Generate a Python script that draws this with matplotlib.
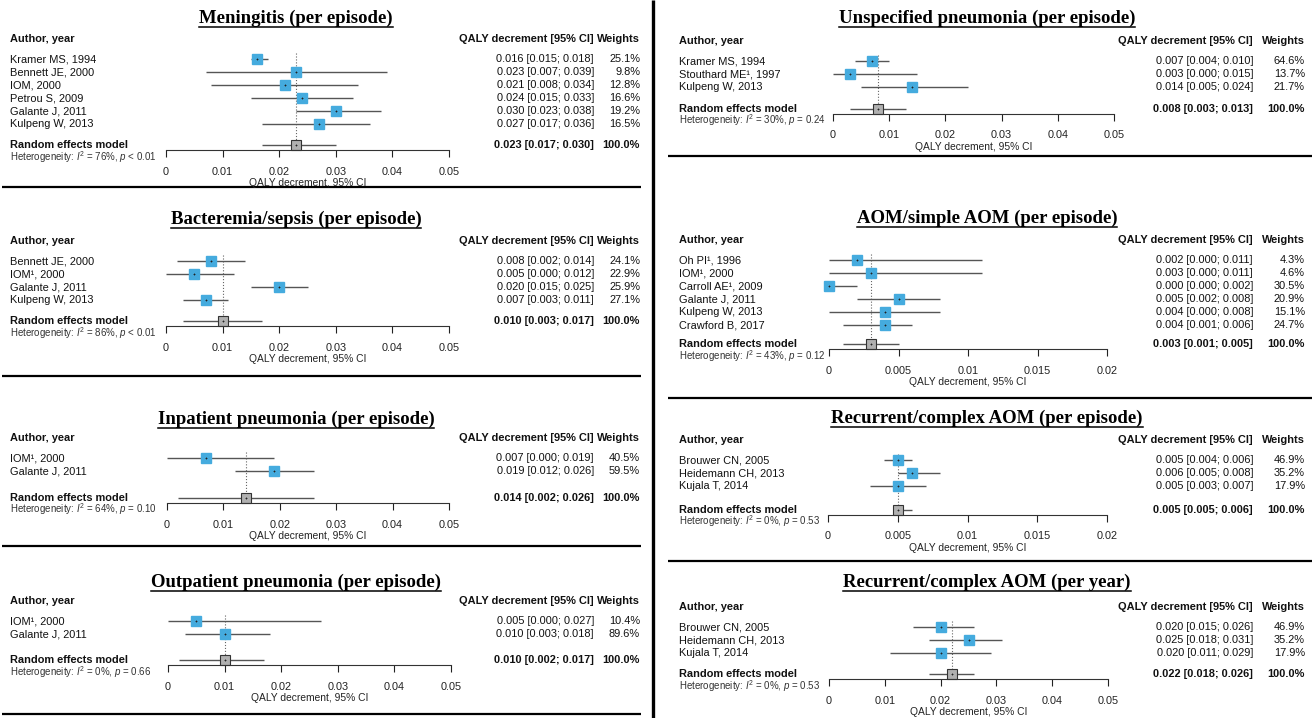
import numpy as np
import matplotlib
matplotlib.use('Agg')
from matplotlib import pyplot as plt
from matplotlib import transforms as mtrans

plt.rcParams['font.family'] = ['Liberation Sans', 'DejaVu Sans']
plt.rcParams['mathtext.fontset'] = 'custom'
plt.rcParams['mathtext.rm'] = 'Liberation Sans'
plt.rcParams['mathtext.it'] = 'Liberation Sans:italic'

# ---- data ----
men_title = 'Meningitis (per episode)'
men_study = ['Kramer MS, 1994', 'Bennett JE, 2000', 'IOM, 2000', 'Petrou S, 2009',
             'Galante J, 2011', 'Kulpeng W, 2013']
men_est = [0.016, 0.023, 0.021, 0.024, 0.030, 0.027]
men_lo = [0.015, 0.007, 0.008, 0.015, 0.023, 0.017]
men_hi = [0.018, 0.039, 0.034, 0.033, 0.038, 0.036]
men_w = [25.1, 9.8, 12.8, 16.6, 19.2, 16.5]
men_pool = [0.023, 0.017, 0.030]
men_het = ['76%', '< 0.01']

bac_title = 'Bacteremia/sepsis (per episode)'
bac_study = ['Bennett JE, 2000', 'IOM\u00b9, 2000', 'Galante J, 2011', 'Kulpeng W, 2013']
bac_est = [0.008, 0.005, 0.020, 0.007]
bac_lo = [0.002, 0.000, 0.015, 0.003]
bac_hi = [0.014, 0.012, 0.025, 0.011]
bac_w = [24.1, 22.9, 25.9, 27.1]
bac_pool = [0.010, 0.003, 0.017]
bac_het = ['86%', '< 0.01']

inp_title = 'Inpatient pneumonia (per episode)'
inp_study = ['IOM\u00b9, 2000', 'Galante J, 2011']
inp_est = [0.007, 0.019]
inp_lo = [0.000, 0.012]
inp_hi = [0.019, 0.026]
inp_w = [40.5, 59.5]
inp_pool = [0.014, 0.002, 0.026]
inp_het = ['64%', '= 0.10']

out_title = 'Outpatient pneumonia (per episode)'
out_study = ['IOM\u00b9, 2000', 'Galante J, 2011']
out_est = [0.005, 0.010]
out_lo = [0.000, 0.003]
out_hi = [0.027, 0.018]
out_w = [10.4, 89.6]
out_pool = [0.010, 0.002, 0.017]
out_het = ['0%', '= 0.66']

uns_title = 'Unspecified pneumonia (per episode)'
uns_study = ['Kramer MS, 1994', 'Stouthard ME\u00b9, 1997', 'Kulpeng W, 2013']
uns_est = [0.007, 0.003, 0.014]
uns_lo = [0.004, 0.000, 0.005]
uns_hi = [0.010, 0.015, 0.024]
uns_w = [64.6, 13.7, 21.7]
uns_pool = [0.008, 0.003, 0.013]
uns_het = ['30%', '= 0.24']

aom_title = 'AOM/simple AOM (per episode)'
aom_study = ['Oh PI\u00b9, 1996', 'IOM\u00b9, 2000', 'Carroll AE\u00b9, 2009', 'Galante J, 2011',
             'Kulpeng W, 2013', 'Crawford B, 2017']
aom_est = [0.002, 0.003, 0.000, 0.005, 0.004, 0.004]
aom_lo = [0.000, 0.000, 0.000, 0.002, 0.000, 0.001]
aom_hi = [0.011, 0.011, 0.002, 0.008, 0.008, 0.006]
aom_w = [4.3, 4.6, 30.5, 20.9, 15.1, 24.7]
aom_pool = [0.003, 0.001, 0.005]
aom_het = ['43%', '= 0.12']

rce_title = 'Recurrent/complex AOM (per episode)'
rce_study = ['Brouwer CN, 2005', 'Heidemann CH, 2013', 'Kujala T, 2014']
rce_est = [0.005, 0.006, 0.005]
rce_lo = [0.004, 0.005, 0.003]
rce_hi = [0.006, 0.008, 0.007]
rce_w = [46.9, 35.2, 17.9]
rce_pool = [0.005, 0.005, 0.006]
rce_het = ['0%', '= 0.53']

rcy_title = 'Recurrent/complex AOM (per year)'
rcy_study = ['Brouwer CN, 2005', 'Heidemann CH, 2013', 'Kujala T, 2014']
rcy_est = [0.020, 0.025, 0.020]
rcy_lo = [0.015, 0.018, 0.011]
rcy_hi = [0.026, 0.031, 0.029]
rcy_w = [46.9, 35.2, 17.9]
rcy_pool = [0.022, 0.018, 0.026]
rcy_het = ['0%', '= 0.53']

ticks_05 = [0, 0.01, 0.02, 0.03, 0.04, 0.05]
ticks_02 = [0, 0.005, 0.01, 0.015, 0.02]

W, H = 1312, 718
fig = plt.figure(figsize=(W / 100, H / 100), dpi=100)
bg = fig.add_axes([0, 0, 1, 1])
bg.set_xlim(0, W)
bg.set_ylim(H, 0)
bg.axis('off')

# frame lines between the panels
bg.vlines(653, 0, H, color='k', lw=2.4)
bg.hlines([187, 376, 546, 714], 2, 641, color='k', lw=1.6)
bg.hlines([156, 398, 561], 668, W, color='k', lw=1.6)

BLUE = '#45abde'
CI = '#555555'
titles = []


def forest(title, study, est, lo, hi, w, pool, het, ticks, x0, x1, top, title_y, title_cx,
           lab_x, val_x, w_x, gap=1.6):
    n = len(study)
    pitch = 13.0
    y_head = -1.55
    y_pool = n - 1 + gap
    y_axis = y_pool + 0.4
    h = (y_axis - y_head) * pitch
    ax = fig.add_axes([x0 / W, 1 - (top + h) / H, (x1 - x0) / W, h / H])
    ax.patch.set_visible(False)
    ax.set_xlim(0, ticks[-1])
    ax.set_ylim(y_axis, y_head)
    for s in ['top', 'left', 'right']:
        ax.spines[s].set_visible(False)
    ax.spines['bottom'].set_bounds(0, ticks[-1])
    ax.spines['bottom'].set_color('#333333')
    ax.spines['bottom'].set_linewidth(0.8)
    ax.set_yticks([])
    ax.set_xticks(ticks)
    ax.set_xticklabels(['{:g}'.format(t) for t in ticks])
    ax.tick_params(axis='x', length=5, width=0.8, pad=7, labelsize=7.8, colors='#222222')
    ax.set_xlabel('QALY decrement, 95% CI', fontsize=7.4, labelpad=1, color='#222222')

    y = np.arange(n)
    ax.vlines(pool[0], -0.5, y_axis, color='#666666', lw=0.8, linestyles=':')
    ax.hlines(y, lo, hi, color=CI, lw=1.0)
    ax.plot(est, y, 's', ms=7, mfc=BLUE, mec=BLUE, clip_on=False)
    ax.plot(est, y, '+', ms=2, color='#222222', mew=0.6, clip_on=False)
    ax.hlines(y_pool, pool[1], pool[2], color=CI, lw=1.0)
    ax.plot(pool[0], y_pool, 's', ms=7.5, mfc='#b0b0b0', mec='#333333', mew=0.8, clip_on=False)
    ax.plot(pool[0], y_pool, '+', ms=2, color='#222222', mew=0.6, clip_on=False)

    tr = mtrans.blended_transform_factory(bg.transData, ax.transData)
    kw = dict(transform=tr, va='center', fontsize=7.9, color='#111111')
    ax.text(lab_x, y_head, 'Author, year', fontweight='bold', **kw)
    ax.text(val_x, y_head, 'QALY decrement [95% CI]', ha='right', fontweight='bold', **kw)
    ax.text(w_x, y_head, 'Weights', ha='right', fontweight='bold', **kw)
    for i in range(n):
        ax.text(lab_x, i, study[i], **kw)
        ax.text(val_x, i, '{:.3f} [{:.3f}; {:.3f}]'.format(est[i], lo[i], hi[i]), ha='right', **kw)
        ax.text(w_x, i, '{:.1f}%'.format(w[i]), ha='right', **kw)
    ax.text(lab_x, y_pool, 'Random effects model', fontweight='bold', **kw)
    ax.text(val_x, y_pool, '{:.3f} [{:.3f}; {:.3f}]'.format(*pool), ha='right',
            fontweight='bold', **kw)
    ax.text(w_x, y_pool, '100.0%', ha='right', fontweight='bold', **kw)
    ax.text(lab_x, y_axis + 0.5, r'Heterogeneity: $I^2$ = ' + het[0] + r', $p$ ' + het[1],
            transform=tr, va='center', fontsize=7, color='#333333')

    t = bg.text(title_cx, title_y, title, ha='center', va='center', fontsize=13.5,
                family='Liberation Serif', fontweight='bold')
    titles.append(t)


L = dict(lab_x=10, val_x=594, w_x=640, title_cx=296)
R = dict(lab_x=679, val_x=1253, w_x=1305, title_cx=987)

forest(men_title, men_study, men_est, men_lo, men_hi, men_w, men_pool, men_het, ticks_05,
       166, 449, 39, 18, **L)
forest(bac_title, bac_study, bac_est, bac_lo, bac_hi, bac_w, bac_pool, bac_het, ticks_05,
       166, 449, 241, 219, **L)
forest(inp_title, inp_study, inp_est, inp_lo, inp_hi, inp_w, inp_pool, inp_het, ticks_05,
       167, 449, 438, 419, gap=2.05, **L)
forest(out_title, out_study, out_est, out_lo, out_hi, out_w, out_pool, out_het, ticks_05,
       168, 451, 601, 582, gap=2.0, **L)
forest(uns_title, uns_study, uns_est, uns_lo, uns_hi, uns_w, uns_pool, uns_het, ticks_05,
       833, 1114, 41, 18, gap=1.65, **R)
forest(aom_title, aom_study, aom_est, aom_lo, aom_hi, aom_w, aom_pool, aom_het, ticks_02,
       829, 1107, 240, 218, gap=1.45, **R)
forest(rce_title, rce_study, rce_est, rce_lo, rce_hi, rce_w, rce_pool, rce_het, ticks_02,
       828, 1107, 440, 418, gap=1.8, **R)
forest(rcy_title, rcy_study, rcy_est, rcy_lo, rcy_hi, rcy_w, rcy_pool, rcy_het, ticks_05,
       829, 1108, 607, 582, gap=1.6, **R)

# underline the panel titles
fig.canvas.draw()
inv = bg.transData.inverted()
for t in titles:
    bb = t.get_window_extent()
    (xa, ya), (xb, yb) = inv.transform([[bb.x0, bb.y0], [bb.x1, bb.y0]])
    bg.plot([xa, xb], [ya, yb], color='k', lw=1.1)

fig.savefig('out.png', dpi=100)
